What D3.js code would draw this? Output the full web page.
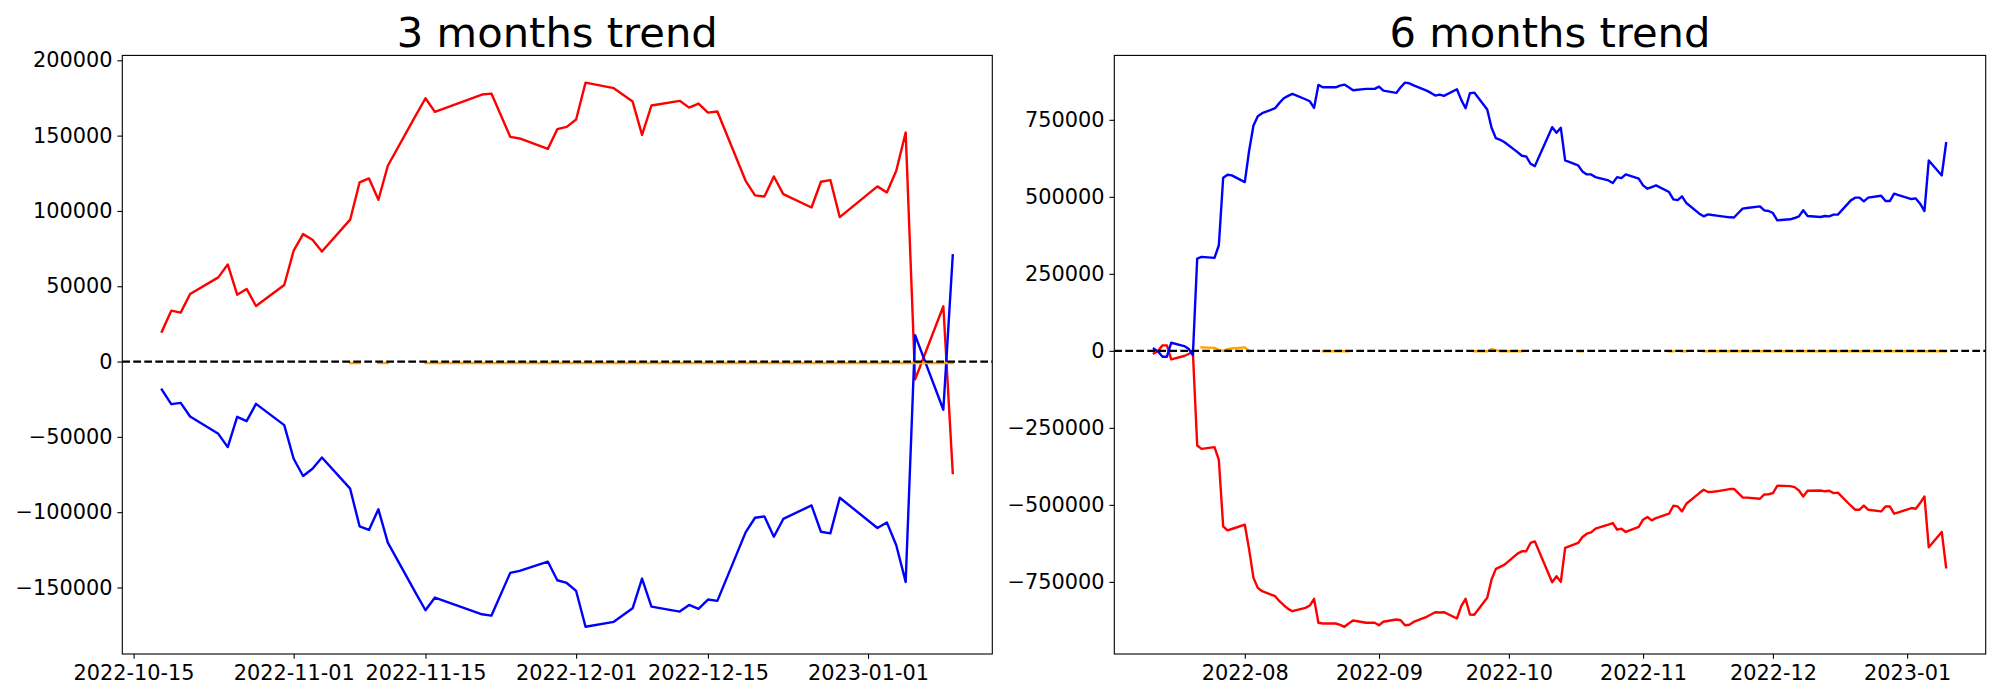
<!DOCTYPE html>
<html>
<head>
<meta charset="utf-8">
<script src="https://cdn.jsdelivr.net/npm/d3@7"></script>
<style>
  html, body { margin: 0; padding: 0; background: #fff; }
  svg { display: block; }
  text { font-family: "DejaVu Sans", sans-serif; fill: #000; }
</style>
</head>
<body>
<svg id="chart" width="2000" height="700"></svg>
<script>
// ---------------- 3 months data ----------------
const dates3 = ["2022-10-18","2022-10-19","2022-10-20","2022-10-21","2022-10-24","2022-10-25","2022-10-26","2022-10-27","2022-10-28","2022-10-31",
  "2022-11-01","2022-11-02","2022-11-03","2022-11-04","2022-11-07","2022-11-08","2022-11-09","2022-11-10","2022-11-11","2022-11-14",
  "2022-11-15","2022-11-16","2022-11-21","2022-11-22","2022-11-24","2022-11-25","2022-11-28","2022-11-29","2022-11-30","2022-12-01",
  "2022-12-02","2022-12-05","2022-12-07","2022-12-08","2022-12-09","2022-12-12","2022-12-13","2022-12-14","2022-12-15","2022-12-16",
  "2022-12-19","2022-12-20","2022-12-21","2022-12-22","2022-12-23","2022-12-26","2022-12-27","2022-12-28","2022-12-29","2023-01-02",
  "2023-01-03","2023-01-04","2023-01-05","2023-01-06","2023-01-09","2023-01-10"];
const red3 = [19900,33800,32500,44900,55900,64500,44400,48200,36900,50800,
  73600,84600,80900,73100,94200,118900,121600,107400,130000,163800,
  174800,165800,177300,177900,149200,148100,141200,154300,155800,160700,
  185200,181500,172600,150500,170000,173100,168600,171300,165300,166000,
  120000,110300,109600,122900,111200,102300,119400,120500,95900,116300,
  112300,126700,152100,-11900,36700,-74000];
const blue3 = [-18600,-28300,-27400,-36500,-48000,-56800,-36700,-39600,-28100,-42200,
  -64500,-76000,-71200,-63700,-84400,-109400,-111800,-98100,-120200,-154100,
  -165100,-156700,-167800,-168700,-140300,-139000,-132900,-145200,-147000,-152300,
  -176100,-172800,-163800,-144100,-162700,-166000,-161600,-164200,-158000,-158900,
  -113400,-103700,-102800,-116300,-104500,-95500,-113000,-114100,-90400,-110500,
  -106800,-122000,-146300,17500,-32000,70500];
const orange3 = [null,null,null,null,null,null,null,null,null,null,
  null,null,null,null,-1000,-1000,null,-1000,-1000,null,
  -1000,-1000,-1000,-1000,-1000,-1000,-1000,-1000,-1000,-1000,
  -1000,-1000,-1000,-1000,-1000,-1000,-1000,-1000,-1000,-1000,
  -1000,-1000,-1000,-1000,-1000,-1000,-1000,-1000,-1000,-1000,
  -1000,-1000,-1000,-1000,-1000,-1000];
const yTicks3 = [-150000,-100000,-50000,0,50000,100000,150000,200000];
const xTicks3 = ["2022-10-15","2022-11-01","2022-11-15","2022-12-01","2022-12-15","2023-01-01"];

// ---------------- 6 months data ----------------
const dates6 = [
  "2022-07-11","2022-07-12","2022-07-13","2022-07-14","2022-07-15","2022-07-18","2022-07-19","2022-07-20","2022-07-21","2022-07-22",
  "2022-07-25","2022-07-26","2022-07-27","2022-07-28","2022-07-29",
  "2022-08-01","2022-08-02","2022-08-03","2022-08-04","2022-08-05","2022-08-08","2022-08-09","2022-08-10","2022-08-11","2022-08-12",
  "2022-08-15","2022-08-16","2022-08-17","2022-08-18","2022-08-19","2022-08-22","2022-08-23","2022-08-24","2022-08-25","2022-08-26",
  "2022-08-29","2022-08-30","2022-08-31",
  "2022-09-01","2022-09-02","2022-09-05","2022-09-06","2022-09-07","2022-09-08","2022-09-09","2022-09-12","2022-09-13","2022-09-14",
  "2022-09-15","2022-09-16","2022-09-19","2022-09-20","2022-09-21","2022-09-22","2022-09-23","2022-09-26","2022-09-27","2022-09-28",
  "2022-09-29","2022-09-30",
  "2022-10-03","2022-10-04","2022-10-05","2022-10-06","2022-10-07","2022-10-11","2022-10-12","2022-10-13","2022-10-14","2022-10-17",
  "2022-10-18","2022-10-19","2022-10-20","2022-10-21","2022-10-24","2022-10-25","2022-10-26","2022-10-27","2022-10-28","2022-10-31",
  "2022-11-01","2022-11-02","2022-11-03","2022-11-04","2022-11-07","2022-11-08","2022-11-09","2022-11-10","2022-11-11","2022-11-14",
  "2022-11-15","2022-11-16","2022-11-17","2022-11-18","2022-11-21","2022-11-22","2022-11-23","2022-11-24","2022-11-25","2022-11-28",
  "2022-11-29","2022-11-30",
  "2022-12-01","2022-12-02","2022-12-05","2022-12-06","2022-12-07","2022-12-08","2022-12-09","2022-12-12","2022-12-13","2022-12-14",
  "2022-12-15","2022-12-16","2022-12-19","2022-12-20","2022-12-21","2022-12-22","2022-12-23","2022-12-26","2022-12-27","2022-12-28",
  "2022-12-29","2022-12-30",
  "2023-01-02","2023-01-03","2023-01-04","2023-01-05","2023-01-06","2023-01-09","2023-01-10"];
const blue6 = [
  6800,-2900,-19000,-19000,26300,15500,6800,-13600,299600,304900,
  301700,342800,562000,571700,569500,
  547900,650500,731500,761700,771400,787600,805000,820000,827700,834200,
  816800,810200,788800,863300,855700,855700,861100,864400,855700,846000,
  850300,850300,850300,
  857800,844900,837400,855700,870800,868600,862100,844900,837400,828700,
  832000,827700,849200,814800,787600,836200,838400,783300,724000,690400,
  685200,677400,
  645000,633300,631100,607400,599700,726000,707900,724000,618100,601900,
  582500,572800,572800,564000,553300,544600,564000,560800,572800,558800,
  537100,526400,531600,537100,515500,491800,489500,501500,479800,445400,
  436700,443200,440900,439000,433500,433000,447400,461700,463600,469100,
  456200,453900,
  447400,423800,427000,431200,436700,456200,437700,434400,437700,436700,
  442200,442200,488500,497300,497300,485300,497300,503700,486300,486300,
  510200,505700,
  492800,494900,477800,453900,618100,569500,674200];
const red6 = [
  -8100,0,17800,17800,-27500,-16800,-10300,-2900,-307400,-318100,
  -312700,-353800,-569800,-582800,-578300,
  -564300,-645300,-737000,-769400,-780400,-796600,-812800,-825800,-837500,-845200,
  -834200,-826800,-805100,-882800,-885100,-885100,-889400,-895800,-885100,-875400,
  -882800,-882800,-882800,
  -890600,-879600,-872100,-874400,-890600,-889400,-880100,-863400,-855900,-848400,
  -849500,-848400,-868900,-829000,-805100,-855900,-856700,-801800,-742500,-707900,
  -701400,-693900,
  -658300,-650800,-650800,-623700,-618500,-751300,-731800,-750000,-639800,-623700,
  -604200,-593500,-589300,-577300,-564300,-558900,-580600,-577300,-588000,-571800,
  -548200,-539400,-550400,-542700,-528700,-502800,-505100,-521300,-496300,-461700,
  -451000,-458400,-457700,-456000,-448700,-448000,-461700,-475900,-476600,-480100,
  -466200,-465500,
  -461700,-438000,-439300,-442400,-453200,-472700,-454200,-453200,-456000,-454200,
  -461700,-460300,-502800,-515800,-515800,-502300,-515800,-521300,-505100,-505100,
  -528700,-524500,
  -510300,-512500,-494100,-472700,-637900,-588000,-702700];
const orange6 = [
  null,null,null,null,null,null,null,null,null,11300,
  9700,3200,0,5400,7600,
  11300,-1300,null,null,null,null,null,null,null,null,
  null,null,null,null,-1500,-1500,-1500,-1500,-1500,null,
  null,null,null,
  null,null,null,null,null,null,null,null,null,null,
  null,null,null,null,null,null,-1300,-1300,5400,2200,
  -1300,-1300,
  -1300,-1300,null,null,null,null,null,null,null,-1300,
  -1300,null,null,null,null,null,null,null,null,null,
  null,null,null,null,-1300,-1300,null,-1300,-1300,null,
  -1300,-1300,-1300,-1300,-1300,-1300,-1300,-1300,-1300,-1300,
  -1300,-1300,
  -1300,-1300,-1300,-1300,-1300,-1300,-1300,-1300,-1300,-1300,
  -1300,-1300,-1300,-1300,-1300,-1300,-1300,-1300,-1300,-1300,
  -1300,-1300,
  -1300,-1300,-1300,-1300,-1300,-1300,-1300];
const yTicks6 = [-750000,-500000,-250000,0,250000,500000,750000];
const xTicks6 = ["2022-08-01","2022-09-01","2022-10-01","2022-11-01","2022-12-01","2023-01-01"];

const titles = ["3 months trend", "6 months trend"];

// ---------------- drawing ----------------
const parse = d3.timeParse("%Y-%m-%d");
const svg = d3.select("#chart");
svg.append("rect").attr("width", 2000).attr("height", 700).attr("fill", "#fff");

const TICK = 4.86, FONT = 20.83, LW = 2.4;

function pad(ext, frac) {
  const d = (ext[1] - ext[0]) * frac;
  return [ext[0] - d, ext[1] + d];
}

function panel(cfg) {
  const {box, title, dates, red, blue, orange, yTicks, xTicks, xFmt} = cfg;
  const ds = dates.map(parse);
  const xExt = pad(d3.extent(ds, d => +d), 0.05);
  const allVals = [].concat(red, blue, orange).filter(v => v !== null);
  const yExt = pad(d3.extent(allVals), 0.05);

  const x = d3.scaleTime().domain(xExt.map(v => new Date(v))).range([box.x0, box.x1]);
  const y = d3.scaleLinear().domain(yExt).range([box.y1, box.y0]);

  const g = svg.append("g");
  const clipId = "clip" + Math.round(box.x0);
  svg.append("clipPath").attr("id", clipId).append("rect")
    .attr("x", box.x0).attr("y", box.y0)
    .attr("width", box.x1 - box.x0).attr("height", box.y1 - box.y0);

  const plot = g.append("g").attr("clip-path", `url(#${clipId})`);

  const series = [
    {vals: red, color: "#ff0000", connect: true},
    {vals: blue, color: "#0000ff", connect: true},
    {vals: orange, color: "#ffa500", connect: false}
  ];
  series.forEach(s => {
    let pts = ds.map((d, i) => ({d, v: s.vals[i]}));
    const line = d3.line().x(p => x(p.d)).y(p => y(p.v));
    if (s.connect) pts = pts.filter(p => p.v !== null);
    else line.defined(p => p.v !== null);
    plot.append("path").datum(pts)
      .attr("d", line)
      .attr("fill", "none")
      .attr("stroke", s.color)
      .attr("stroke-width", LW)
      .attr("stroke-linejoin", "round")
      .attr("stroke-linecap", "square");
  });

  // zero dashed line
  plot.append("line")
    .attr("x1", box.x0).attr("x2", box.x1)
    .attr("y1", y(0)).attr("y2", y(0))
    .attr("stroke", "#000").attr("stroke-width", 2.2)
    .attr("stroke-dasharray", "7.7,3.3");

  // axes
  const yAxis = d3.axisLeft(y).tickValues(yTicks).tickFormat(d3.format("d"))
    .tickSize(TICK).tickPadding(TICK).tickSizeOuter(0);
  const ya = g.append("g").attr("transform", `translate(${box.x0},0)`).call(yAxis);
  ya.select(".domain").remove();
  ya.selectAll("line").attr("stroke", "#000").attr("stroke-width", 1.1);
  ya.selectAll("text").attr("font-size", FONT).attr("font-family", "DejaVu Sans").attr("fill", "#000");

  const xAxis = d3.axisBottom(x).tickValues(xTicks.map(parse)).tickFormat(d3.timeFormat(xFmt))
    .tickSize(TICK).tickPadding(TICK).tickSizeOuter(0);
  const xa = g.append("g").attr("transform", `translate(0,${box.y1})`).call(xAxis);
  xa.select(".domain").remove();
  xa.selectAll("line").attr("stroke", "#000").attr("stroke-width", 1.1);
  xa.selectAll("text").attr("font-size", FONT).attr("font-family", "DejaVu Sans").attr("fill", "#000")
    .attr("y", 26).attr("dy", 0);

  // frame
  g.append("rect")
    .attr("x", box.x0).attr("y", box.y0)
    .attr("width", box.x1 - box.x0).attr("height", box.y1 - box.y0)
    .attr("fill", "none").attr("stroke", "#000").attr("stroke-width", 1.1);

  // title
  g.append("text")
    .attr("x", (box.x0 + box.x1) / 2).attr("y", box.y0 - 8.5)
    .attr("text-anchor", "middle")
    .attr("font-size", 41.67)
    .text(title);
}

panel({box: {x0: 122.3, x1: 992.3, y0: 55.4, y1: 654}, title: titles[0],
  dates: dates3, red: red3, blue: blue3, orange: orange3, yTicks: yTicks3, xTicks: xTicks3, xFmt: "%Y-%m-%d"});
panel({box: {x0: 1114.3, x1: 1985.7, y0: 55.4, y1: 654}, title: titles[1],
  dates: dates6, red: red6, blue: blue6, orange: orange6, yTicks: yTicks6, xTicks: xTicks6, xFmt: "%Y-%m"});
</script>
</body>
</html>
